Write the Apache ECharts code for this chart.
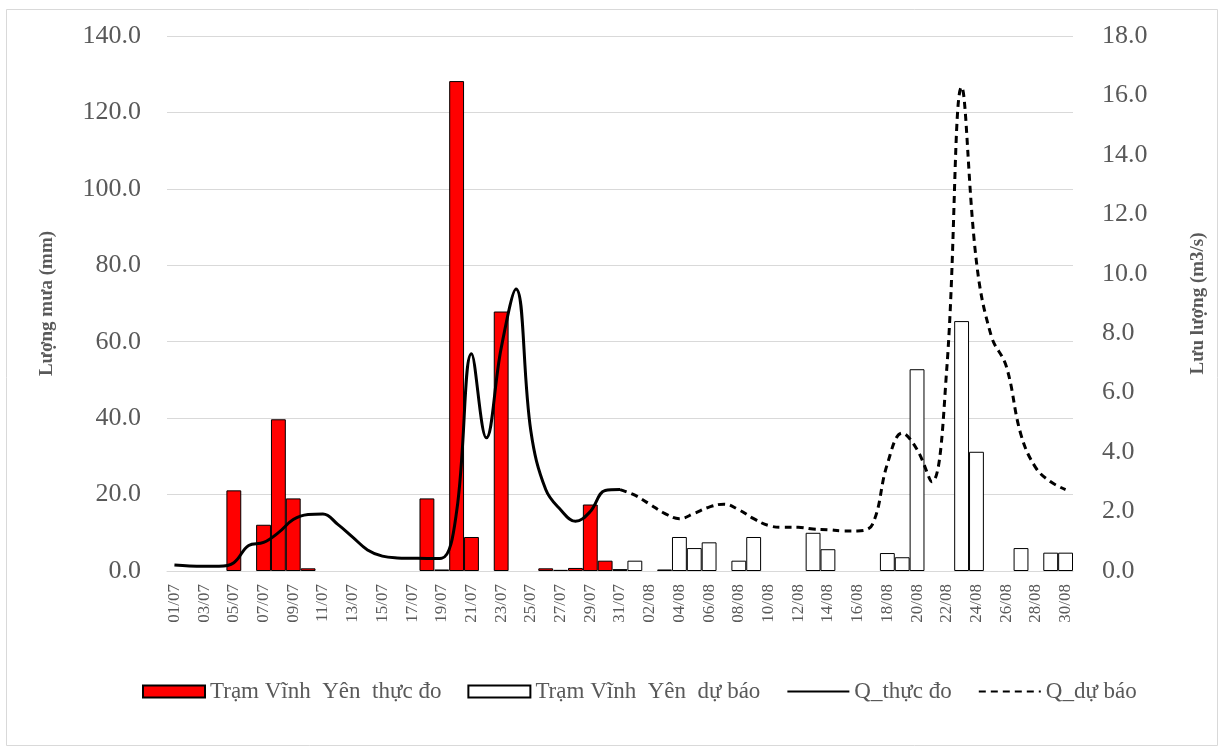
<!DOCTYPE html>
<html>
<head>
    <meta charset="UTF-8">
    <title>Vinh Yen</title>
    <script src="https://cdn.jsdelivr.net/npm/echarts@6/dist/echarts.min.js"></script>
    <style>
        body { margin: 0; background: #fff; }
        #chart { width: 1224px; height: 753px; }
    </style>
</head>
<body>
    <div id="chart"></div>
    <script>
        // ngày 01/07 -> 30/08
        var days = [];
        for (var d = 1; d <= 31; d++) days.push((d < 10 ? '0' + d : '' + d) + '/07');
        for (var d = 1; d <= 30; d++) days.push((d < 10 ? '0' + d : '' + d) + '/08');

        var rainObs = [
            null, null, null, null, 21.1, null, 12.1, 39.7, 19.0, 0.7,
            null, null, null, null, null, null, null, 19.0, null, 128.2,
            8.9, null, 67.9, null, null, 0.7, 0.3, 0.8, 17.4, 2.7,
            null, null, null, null, null, null, null, null, null, null,
            null, null, null, null, null, null, null, null, null, null,
            null, null, null, null, null, null, null, null, null, null,
            null
        ];
        var rainFc = [
            null, null, null, null, null, null, null, null, null, null,
            null, null, null, null, null, null, null, null, 0.4, null,
            null, null, null, null, null, null, null, null, null, null,
            0.5, 2.7, null, 0.4, 8.9, 6.0, 7.5, null, 2.7, 8.9,
            null, null, null, 10.0, 5.7, null, null, null, 4.7, 3.6,
            52.8, null, null, 65.4, 31.2, null, null, 6.0, null, 4.8,
            4.8
        ];
        var qObs = [
            0.20, 0.17, 0.16, 0.16, 0.28, 0.86, 0.96, 1.29, 1.73, 1.90,
            1.92, 1.57, 1.14, 0.71, 0.50, 0.44, 0.43, 0.42, 0.43, 2.0,
            7.31, 4.48, 7.5, 9.49, 4.70, 2.74, 2.06, 1.67, 2.0, 2.71,
            2.74
        ];
        var qFc = [
            null, null, null, null, null, null, null, null, null, null,
            null, null, null, null, null, null, null, null, null, null,
            null, null, null, null, null, null, null, null, null, null,
            2.74, 2.55, 2.25, 1.94, 1.76, 1.94, 2.15, 2.25, 2.06, 1.76,
            1.53, 1.47, 1.47, 1.41, 1.39, 1.35, 1.35, 1.57, 3.60, 4.64,
            4.09, 3.0, 6.8, 16.28, 10.4, 7.9, 6.9, 4.58, 3.47, 3.0,
            2.74
        ];

        var chart = echarts.init(document.getElementById('chart'), null, {renderer: 'canvas'});
        var serif = 'Liberation Serif';
        var grey = '#595959';

        chart.setOption({
            animation: false,
            backgroundColor: '#fff',
            graphic: [{
                type: 'rect',
                shape: {x: 6.5, y: 9.5, width: 1211, height: 736},
                style: {fill: 'none', stroke: '#d9d9d9', lineWidth: 1},
                silent: true
            }],
            grid: {left: 167, right: 151, top: 36, bottom: 182},
            legend: {
                bottom: 45,
                left: 137,
                itemWidth: 62,
                itemHeight: 12,
                itemGap: 26,
                textStyle: {fontFamily: serif, fontSize: 23, color: grey},
                data: [
                    {name: 'Trạm Vĩnh  Yên  thực đo', icon: 'rect'},
                    {name: 'Trạm Vĩnh  Yên  dự báo', icon: 'rect'},
                    {name: 'Q_thực đo', itemStyle: {opacity: 0}},
                    {name: 'Q_dự báo', itemStyle: {opacity: 0}}
                ]
            },
            xAxis: {
                type: 'category',
                data: days,
                axisLine: {lineStyle: {color: '#d9d9d9'}},
                axisTick: {show: false},
                axisLabel: {
                    interval: 1,
                    rotate: 90,
                    color: grey,
                    fontFamily: serif,
                    fontSize: 17,
                    margin: 13
                }
            },
            yAxis: [{
                type: 'value',
                min: 0, max: 140, interval: 20,
                name: 'Lượng mưa (mm)',
                nameLocation: 'middle',
                nameGap: 110,
                nameTextStyle: {fontFamily: serif, fontSize: 19, fontWeight: 'bold', color: grey},
                axisLabel: {
                    formatter: function (v) { return v.toFixed(1); },
                    fontFamily: serif, fontSize: 26, color: grey, margin: 26
                },
                splitLine: {lineStyle: {color: '#d9d9d9'}},
                axisLine: {show: false},
                axisTick: {show: false}
            }, {
                type: 'value',
                min: 0, max: 18, interval: 2,
                name: 'Lưu lượng (m3/s)',
                nameLocation: 'middle',
                nameGap: 116,
                nameTextStyle: {fontFamily: serif, fontSize: 19, fontWeight: 'bold', color: grey},
                axisLabel: {
                    formatter: function (v) { return v.toFixed(1); },
                    fontFamily: serif, fontSize: 26, color: grey, margin: 29
                },
                splitLine: {show: false},
                axisLine: {show: false},
                axisTick: {show: false}
            }],
            series: [{
                name: 'Trạm Vĩnh  Yên  thực đo',
                type: 'bar',
                data: rainObs,
                barGap: '-100%',
                barCategoryGap: 0,
                itemStyle: {color: '#ff0000', borderColor: '#000', borderWidth: 1}
            }, {
                name: 'Trạm Vĩnh  Yên  dự báo',
                type: 'bar',
                data: rainFc,
                barGap: '-100%',
                barCategoryGap: 0,
                itemStyle: {color: '#ffffff', borderColor: '#000', borderWidth: 1}
            }, {
                name: 'Q_thực đo',
                type: 'line',
                yAxisIndex: 1,
                data: qObs,
                smooth: 0.4,
                symbol: 'none',
                itemStyle: {color: '#000'},
                lineStyle: {color: '#000', width: 3}
            }, {
                name: 'Q_dự báo',
                type: 'line',
                yAxisIndex: 1,
                data: qFc,
                smooth: 0.4,
                symbol: 'none',
                itemStyle: {color: '#000'},
                lineStyle: {color: '#000', width: 3, type: [7, 5]}
            }]
        });
    </script>
</body>
</html>
